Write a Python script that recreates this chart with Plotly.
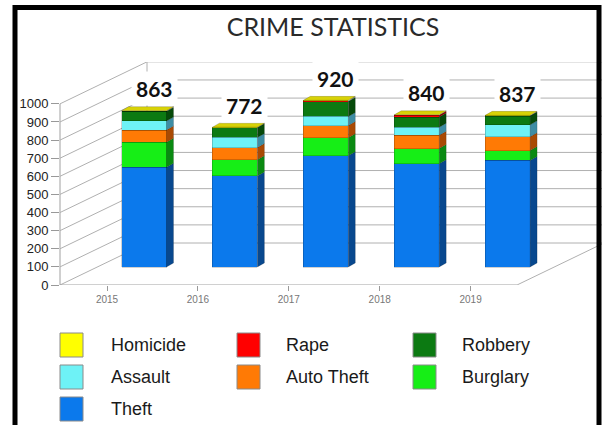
import plotly.graph_objects as go

# ---------------- data ----------------
YEARS = [2015, 2016, 2017, 2018, 2019]
YEAR_LABELS = ["2015", "2016", "2017", "2018", "2019"]
theft = [550, 503, 614, 570, 588]
burglary = [139, 89, 100, 84, 55]
auto_theft = [67, 67, 67, 73, 76]
assault = [50, 56, 50, 45, 66]
robbery = [53, 54, 82, 56, 48]
rape = [1, 1, 4, 9, 1]
homicide = [3, 2, 3, 3, 3]
Y_TICKS = [0, 100, 200, 300, 400, 500, 600, 700, 800, 900, 1000]

# stacking order, bottom to top
SERIES = [
    ("Theft", theft, "#0b79ec", "#08488e"),
    ("Burglary", burglary, "#16ee16", "#0a8a12"),
    ("Auto Theft", auto_theft, "#ff7a05", "#a94a04"),
    ("Assault", assault, "#6ef2f6", "#3e8da4"),
    ("Robbery", robbery, "#0c7a12", "#064a0a"),
    ("Rape", rape, "#ff0000", "#990000"),
    ("Homicide", homicide, "#ffff00", "#a8a800"),
]
# legend layout order (row-wise)
LEGEND_ORDER = ["Homicide", "Rape", "Robbery", "Assault", "Auto Theft", "Burglary", "Theft"]

# ---------------- geometry / style ----------------
W, H = 602, 425
ML, MR, MT, MB = 60, 8, 62, 140
PW = W - ML - MR
PH = H - MT - MB
Y_TOP = 1231
PXU = PH / Y_TOP            # px per value unit
BAR_LIFT = 18 / PXU          # bars sit a little deeper than the front axis
BACK_LIFT = 42 / PXU         # back wall depth (vertical)
BACK_DX = 87 / PW            # back wall depth (horizontal, paper)
STEP = 90.9                  # px per year
FIRST_PX = 84
x_range = [YEARS[0] - FIRST_PX / STEP, YEARS[0] + (PW - FIRST_PX) / STEP]
TICK_SHIFT = 37 / STEP
x2_range = [x_range[0] + TICK_SHIFT, x_range[1] + TICK_SHIFT]
BAR_W = 45 / STEP
FACE_DX = 7 / STEP
FACE_DY = 4 / PXU
FLOOR_END = (517 - ML) / PW
GRID = "#b0b0b0"


def px_x(x):
    return (x - ML) / PW


def px_y(y):
    return (H - MB - y) / PH


fig = go.Figure()

totals = [sum(s[1][i] for s in SERIES) for i in range(len(YEARS))]

# front faces: stacked bars
for name, vals, col, side in SERIES:
    fig.add_trace(go.Bar(
        x=YEARS, y=vals, name=name, width=BAR_W,
        marker=dict(color=col, line=dict(color="rgba(0,0,0,0.3)", width=0.6)),
        showlegend=False, hoverinfo="name+y",
    ))

# side faces (3D effect)
base = [0] * len(YEARS)
for name, vals, col, side in SERIES:
    xs, ys = [], []
    for i, yr in enumerate(YEARS):
        y0 = base[i]
        y1 = base[i] + vals[i]
        xr = yr + BAR_W / 2
        xs += [xr, xr + FACE_DX, xr + FACE_DX, xr, xr, None]
        ys += [y0, y0 + FACE_DY, y1 + FACE_DY, y1, y0, None]
        base[i] = y1
    fig.add_trace(go.Scatter(
        x=xs, y=ys, mode="lines", fill="toself", fillcolor=side,
        line=dict(color="rgba(0,0,0,0.3)", width=0.5),
        showlegend=False, hoverinfo="skip",
    ))

# top faces
xs, ys = [], []
for i, yr in enumerate(YEARS):
    t = totals[i]
    xl, xr = yr - BAR_W / 2, yr + BAR_W / 2
    xs += [xl, xl + FACE_DX, xr + FACE_DX, xr, xl, None]
    ys += [t, t + FACE_DY, t + FACE_DY, t, t, None]
fig.add_trace(go.Scatter(
    x=xs, y=ys, mode="lines", fill="toself", fillcolor="#d8d206",
    line=dict(color="rgba(0,0,0,0.35)", width=0.5),
    showlegend=False, hoverinfo="skip",
))

# total labels
annotations = []
for i, yr in enumerate(YEARS):
    annotations.append(dict(
        x=yr, y=totals[i], xref="x", yref="y", text=str(totals[i]),
        showarrow=False, xshift=10, yshift=22,
        font=dict(family="Lato", size=21, color="#111111", weight="bold"),
        bgcolor="white", borderpad=4,
    ))

# 3D frame shapes
shapes = []
line = dict(color=GRID, width=1)
shapes.append(dict(type="line", xref="paper", yref="y2", x0=0, x1=0,
                   y0=Y_TICKS[0], y1=Y_TICKS[-1], line=dict(color="#a0a0a0", width=1), layer="below"))
for v in Y_TICKS:
    shapes.append(dict(type="line", xref="paper", yref="y2", x0=0, x1=BACK_DX,
                       y0=v, y1=v + BACK_LIFT, line=line, layer="below"))
    shapes.append(dict(type="line", xref="paper", yref="y2", x0=BACK_DX, x1=1.02,
                       y0=v + BACK_LIFT, y1=v + BACK_LIFT, line=line, layer="below"))
shapes.append(dict(type="line", xref="paper", yref="y2", x0=BACK_DX, x1=BACK_DX,
                   y0=BACK_LIFT, y1=Y_TICKS[-1] + BACK_LIFT, line=line, layer="below"))
shapes.append(dict(type="line", xref="paper", yref="y2", x0=0, x1=FLOOR_END,
                   y0=0, y1=0, line=dict(color="#a0a0a0", width=1), layer="below"))
shapes.append(dict(type="line", xref="paper", yref="y2", x0=FLOOR_END, x1=FLOOR_END + BACK_DX,
                   y0=0, y1=BACK_LIFT, line=line, layer="below"))

# manual legend
COL_SQ = [60, 237, 413]
COL_TX = [109, 284, 460]
ROW_TOP = [333, 365, 397]
SQ_W, SQ_H = 23, 24
colors = {s[0]: s[2] for s in SERIES}
for k, name in enumerate(LEGEND_ORDER):
    r, c = divmod(k, 3)
    shapes.append(dict(type="rect", xref="paper", yref="paper",
                       x0=px_x(COL_SQ[c]), x1=px_x(COL_SQ[c] + SQ_W),
                       y0=px_y(ROW_TOP[r] + SQ_H), y1=px_y(ROW_TOP[r]),
                       fillcolor=colors[name], line=dict(color="#8a8a8a", width=1)))
    annotations.append(dict(x=px_x(COL_TX[c]), y=px_y(ROW_TOP[r] + SQ_H / 2),
                            xref="paper", yref="paper", text=name, showarrow=False,
                            xanchor="left", yanchor="middle",
                            font=dict(family="Liberation Sans, Arial", size=18, color="#1a1a1a")))

# black frame
shapes.append(dict(type="rect", xref="paper", yref="paper",
                   x0=px_x(15), x1=px_x(599), y0=px_y(440), y1=px_y(7.5),
                   line=dict(color="black", width=5), fillcolor="rgba(0,0,0,0)", layer="above"))

fig.update_layout(
    width=W, height=H,
    margin=dict(l=ML, r=MR, t=MT, b=MB, autoexpand=False),
    paper_bgcolor="white", plot_bgcolor="rgba(0,0,0,0)",
    barmode="stack", showlegend=False,
    title=dict(text="CRIME STATISTICS", x=333 / W, y=1 - 27 / H,
               xanchor="center", yanchor="middle",
               font=dict(family="Lato", size=25, color="#2a2a2a")),
    xaxis=dict(range=x_range, visible=False, fixedrange=True, automargin=False),
    yaxis=dict(range=[-BAR_LIFT, Y_TOP - BAR_LIFT], visible=False, fixedrange=True, automargin=False),
    xaxis2=dict(range=x2_range, overlaying="x", anchor="y", side="bottom",
                tickmode="array", tickvals=YEARS, ticktext=YEAR_LABELS,
                ticks="outside", ticklen=5, tickcolor="#999999",
                tickfont=dict(family="Liberation Sans, Arial", size=10, color="#777777"),
                showgrid=False, showline=False, zeroline=False, automargin=False),
    yaxis2=dict(range=[0, Y_TOP], overlaying="y", anchor="x", side="left",
                tickmode="array", tickvals=Y_TICKS,
                ticks="outside", ticklen=8, tickcolor="#999999",
                tickfont=dict(family="Liberation Sans, Arial", size=13, color="#222222"),
                showgrid=False, showline=False, zeroline=False, automargin=False),
    shapes=shapes, annotations=annotations,
)

# invisible anchor trace so the overlay axes render
fig.add_trace(go.Scatter(x=[YEARS[0]], y=[0], xaxis="x2", yaxis="y2", mode="markers",
                         marker=dict(opacity=0), showlegend=False, hoverinfo="skip"))

fig.write_html("out.html", config={"displayModeBar": False},
               post_script="document.body.style.margin='0';")
